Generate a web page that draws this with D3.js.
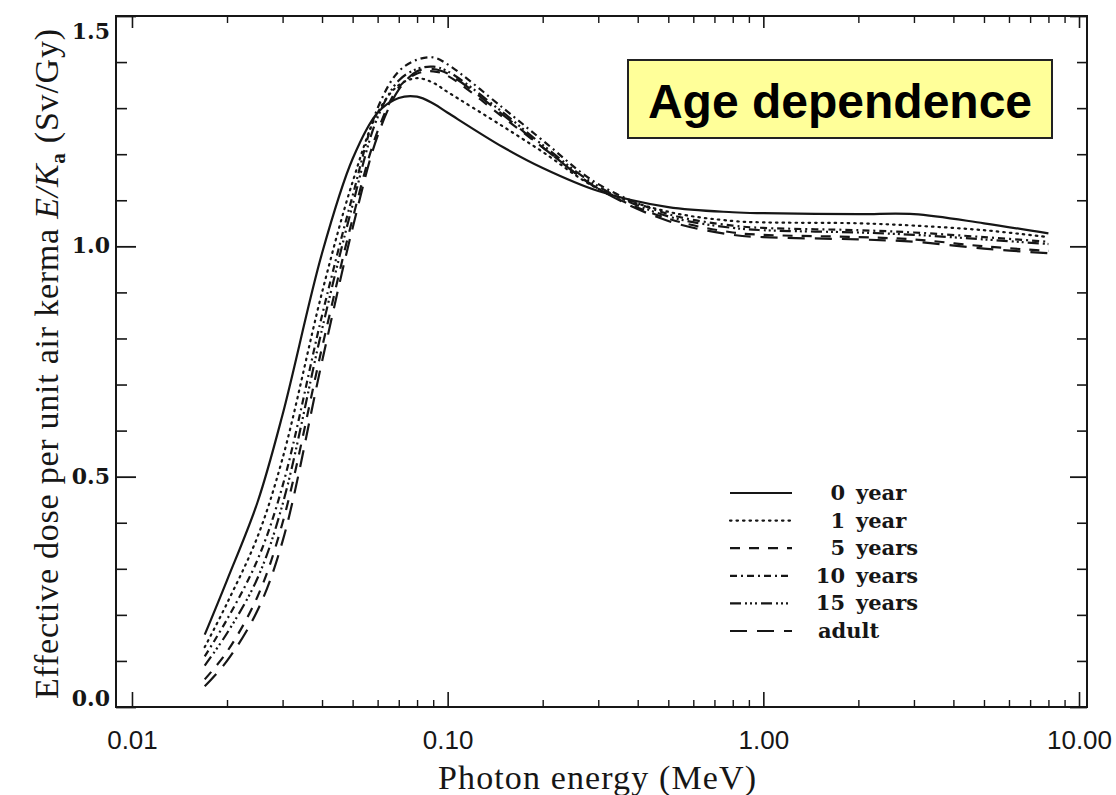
<!DOCTYPE html>
<html>
<head>
<meta charset="utf-8">
<script src="https://cdn.jsdelivr.net/npm/d3@7"></script>
<style>
  html, body { margin: 0; padding: 0; background: #fff; }
  svg { display: block; }
</style>
</head>
<body>
<svg id="chart" width="1116" height="795"></svg>
<script>
// Photon energies (MeV) at which the conversion coefficients are tabulated
const energies = [0.017, 0.02, 0.025, 0.03, 0.04, 0.05, 0.06, 0.07, 0.08, 0.09, 0.1, 0.15, 0.2, 0.3, 0.5, 0.8, 1, 2, 3, 5, 8];

// Effective dose per unit air kerma E/Ka (Sv/Gy) for each age group
const age0  = [0.157, 0.275, 0.445, 0.635, 0.985, 1.19, 1.29, 1.322, 1.325, 1.31, 1.29, 1.215, 1.17, 1.12, 1.085, 1.074, 1.072, 1.07, 1.07, 1.05, 1.028];
const age1  = [0.13, 0.225, 0.37, 0.54, 0.90, 1.14, 1.29, 1.35, 1.365, 1.355, 1.335, 1.26, 1.205, 1.125, 1.075, 1.055, 1.052, 1.05, 1.045, 1.035, 1.02];
const age5  = [0.06, 0.12, 0.24, 0.40, 0.78, 1.06, 1.25, 1.345, 1.375, 1.38, 1.37, 1.28, 1.215, 1.125, 1.06, 1.03, 1.025, 1.02, 1.015, 1.0, 0.99];
const age10 = [0.11, 0.19, 0.32, 0.48, 0.85, 1.11, 1.30, 1.38, 1.405, 1.41, 1.395, 1.30, 1.23, 1.135, 1.07, 1.045, 1.04, 1.035, 1.03, 1.02, 1.01];
const age15 = [0.09, 0.16, 0.28, 0.44, 0.82, 1.09, 1.28, 1.36, 1.385, 1.39, 1.38, 1.29, 1.22, 1.13, 1.065, 1.04, 1.035, 1.03, 1.025, 1.015, 1.005];
const adult = [0.045, 0.10, 0.21, 0.36, 0.75, 1.04, 1.24, 1.34, 1.38, 1.385, 1.375, 1.285, 1.215, 1.125, 1.055, 1.025, 1.02, 1.015, 1.01, 0.995, 0.985];

const seriesNames = ["0 year", "1 year", "5 years", "10 years", "15 years", "adult"];
const legendNumbers = ["0", "1", "5", "10", "15", ""];
const legendWords = ["year", "year", "years", "years", "years", "adult"];
const seriesValues = [age0, age1, age5, age10, age15, adult];
const seriesDash = ["none", "1.5,5", "10,9", "7,4,2,4", "11,4,2,3,2,3,2,4", "17,10"];

const xMajorTicks = [0.01, 0.1, 1, 10];
const xTickLabels = ["0.01", "0.10", "1.00", "10.00"];
const xMinorTicks = [0.02,0.03,0.04,0.05,0.06,0.07,0.08,0.09,0.2,0.3,0.4,0.5,0.6,0.7,0.8,0.9,2,3,4,5,6,7,8,9];
const yMajorTicks = [0, 0.5, 1.0, 1.5];
const yTickLabels = ["0.0", "0.5", "1.0", "1.5"];
const yMinorTicks = [0.1,0.2,0.3,0.4,0.6,0.7,0.8,0.9,1.1,1.2,1.3,1.4];

const titleText = "Age dependence";
const xTitle = "Photon energy (MeV)";

const svg = d3.select("#chart");
const plotLeft = 116, plotRight = 1087, plotTop = 16, plotBottom = 707;

const x = d3.scaleLog().domain([0.0089, 10.6]).range([plotLeft, plotRight]);
const y = d3.scaleLinear().domain([0, 1.5]).range([plotBottom, plotTop]);

const ink = "#161616";

// frame
svg.append("rect")
  .attr("x", plotLeft).attr("y", plotTop)
  .attr("width", plotRight - plotLeft).attr("height", plotBottom - plotTop)
  .attr("fill", "none").attr("stroke", ink).attr("stroke-width", 2);

function tickGroup(axis, tx, ty, width) {
  const g = svg.append("g").attr("transform", `translate(${tx},${ty})`).call(axis);
  g.select(".domain").remove();
  g.selectAll(".tick line").attr("stroke", ink).attr("stroke-width", width);
  g.selectAll(".tick text").remove();
  return g;
}

// inward ticks on all four sides
tickGroup(d3.axisTop(x).tickValues(xMajorTicks).tickSize(15), 0, plotBottom, 1.6);
tickGroup(d3.axisTop(x).tickValues(xMinorTicks).tickSize(7), 0, plotBottom, 1.4);
tickGroup(d3.axisBottom(x).tickValues(xMajorTicks).tickSize(12), 0, plotTop, 1.6);
tickGroup(d3.axisBottom(x).tickValues(xMinorTicks).tickSize(7), 0, plotTop, 1.4);
tickGroup(d3.axisRight(y).tickValues(yMajorTicks).tickSize(20), plotLeft, 0, 1.8);
tickGroup(d3.axisRight(y).tickValues(yMinorTicks).tickSize(11), plotLeft, 0, 1.6);
tickGroup(d3.axisLeft(y).tickValues(yMajorTicks).tickSize(17), plotRight, 0, 1.8);
tickGroup(d3.axisLeft(y).tickValues(yMinorTicks).tickSize(10), plotRight, 0, 1.6);

// x tick labels
const xLab = svg.append("g").attr("transform", `translate(0,${plotBottom})`)
  .call(d3.axisBottom(x).tickValues(xMajorTicks).tickSize(0).tickPadding(24)
    .tickFormat((d, i) => xTickLabels[i]));
xLab.select(".domain").remove();
xLab.selectAll("text")
  .attr("font-family", "Liberation Sans, Arial, sans-serif")
  .attr("font-size", 26).attr("fill", ink);

// y tick labels
const yLab = svg.append("g").attr("transform", `translate(${plotLeft - 6},0)`)
  .call(d3.axisLeft(y).tickValues(yMajorTicks).tickSize(0).tickPadding(0)
    .tickFormat((d, i) => yTickLabels[i]));
yLab.select(".domain").remove();
yLab.selectAll("text")
  .attr("font-family", "DejaVu Serif, serif")
  .attr("font-weight", "bold")
  .attr("font-size", 22).attr("fill", ink)
  .attr("dy", (d) => d === 1.5 ? "1.0em" : d === 0 ? "-0.05em" : "0.3em");

// axis titles
svg.append("text")
  .attr("x", 597).attr("y", 789)
  .attr("text-anchor", "middle")
  .attr("font-family", "Liberation Serif, Times New Roman, serif")
  .attr("font-size", 34).attr("fill", ink)
  .attr("textLength", 318).attr("lengthAdjust", "spacing")
  .text(xTitle);

const yTitle = svg.append("text")
  .attr("transform", "translate(58,364) rotate(-90)")
  .attr("text-anchor", "middle")
  .attr("font-family", "Liberation Serif, Times New Roman, serif")
  .attr("font-size", 34).attr("fill", ink)
  .attr("textLength", 670).attr("lengthAdjust", "spacing");
yTitle.append("tspan").text("Effective dose per unit air kerma ");
yTitle.append("tspan").attr("font-style", "italic").text("E/K");
yTitle.append("tspan").attr("font-size", 21).attr("font-weight", "bold").attr("dy", 7).text("a");
yTitle.append("tspan").attr("dy", -7).text(" (Sv/Gy)");

// curves
const line = d3.line()
  .x((d) => x(d[0]))
  .y((d) => y(d[1]))
  .curve(d3.curveCatmullRom.alpha(0.5));

seriesValues.forEach((vals, i) => {
  svg.append("path")
    .datum(energies.map((e, j) => [e, vals[j]]))
    .attr("d", line)
    .attr("fill", "none")
    .attr("stroke", ink)
    .attr("stroke-width", 2.2)
    .attr("stroke-linecap", i === 1 ? "round" : "butt")
    .attr("stroke-dasharray", seriesDash[i] === "none" ? null : seriesDash[i])
    .attr("aria-label", seriesNames[i]);
});

// legend
const legendY = d3.scalePoint().domain(seriesNames).range([493, 631]);
seriesNames.forEach((name, i) => {
  const ly = legendY(name);
  svg.append("line")
    .attr("x1", 730).attr("x2", 792).attr("y1", ly).attr("y2", ly)
    .attr("stroke", ink).attr("stroke-width", 2.2)
    .attr("stroke-linecap", i === 1 ? "round" : "butt")
    .attr("stroke-dasharray", seriesDash[i] === "none" ? null : seriesDash[i]);
  const t = svg.append("text")
    .attr("y", ly + 7)
    .attr("font-family", "DejaVu Serif, serif")
    .attr("font-weight", "bold")
    .attr("font-size", 21).attr("fill", ink);
  if (legendNumbers[i]) {
    svg.append("text")
      .attr("x", 845).attr("y", ly + 7).attr("text-anchor", "end")
      .attr("font-family", "DejaVu Serif, serif").attr("font-weight", "bold")
      .attr("font-size", 21).attr("fill", ink)
      .text(legendNumbers[i]);
    t.attr("x", 856).text(legendWords[i]);
  } else {
    t.attr("x", 818).text(legendWords[i]);
  }
});

// title box
svg.append("rect")
  .attr("x", 628).attr("y", 60).attr("width", 424).attr("height", 78)
  .attr("fill", "#ffff99").attr("stroke", "#222").attr("stroke-width", 2);
svg.append("text")
  .attr("x", 840).attr("y", 118)
  .attr("text-anchor", "middle")
  .attr("font-family", "Liberation Sans, Arial, sans-serif")
  .attr("font-weight", "bold")
  .attr("font-size", 48).attr("fill", "#000")
  .text(titleText);
</script>
</body>
</html>
